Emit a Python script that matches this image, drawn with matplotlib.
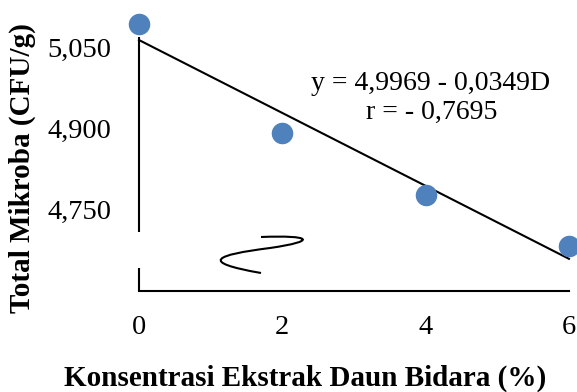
import matplotlib.pyplot as plt
import numpy as np
from matplotlib.path import Path
from matplotlib.patches import PathPatch

plt.rcParams['font.family'] = ['Liberation Serif', 'DejaVu Serif']

konsentrasi = [0, 2, 4, 6]
total_mikroba = [5.093, 4.891, 4.776, 4.681]
yticks = [4.750, 4.900, 5.050]
ytick_labels = ['4,750', '4,900', '5,050']
xticks = [0, 2, 4, 6]


def plot():
    fig = plt.figure(figsize=(5.77, 3.92), dpi=100)
    ax = fig.add_axes([139 / 577, 1 - 291 / 392, 430 / 577, 254 / 392])

    ax.scatter(konsentrasi, total_mikroba, s=210, color='#4F81BD',
               zorder=3, clip_on=False)

    # least squares trend line
    k, b = np.polyfit(konsentrasi, total_mikroba, 1)
    xs = np.array([0, 6])
    ax.plot(xs, k * xs + b, color='black', lw=1.5, clip_on=False)

    ax.set_xlim(0, 6)
    ax.set_ylim(4.598, 5.0685)
    ax.set_xticks(xticks)
    ax.set_yticks(yticks)
    ax.set_yticklabels(ytick_labels)
    ax.tick_params(length=0, labelsize=20.5)
    ax.tick_params(axis='y', pad=20)
    ax.tick_params(axis='x', pad=17)

    for s in ['top', 'right', 'left']:
        ax.spines[s].set_visible(False)
    ax.spines['bottom'].set_linewidth(1.5)

    # broken y axis drawn in two pieces
    tr = ax.transAxes
    ax.plot([0, 0], [1, (291 - 232) / 254], color='black', lw=1.5,
            transform=tr, clip_on=False, solid_capstyle='butt')
    ax.plot([0, 0], [0, (291 - 268) / 254], color='black', lw=1.5,
            transform=tr, clip_on=False, solid_capstyle='butt')

    # squiggle break mark
    def p(x, y):
        return ((x - 139) / 430, (291 - y) / 254)
    verts = [p(261, 273), p(198, 262), p(215, 255), p(270, 248),
             p(318, 241), p(312, 235), p(261, 237)]
    codes = [Path.MOVETO, Path.CURVE4, Path.CURVE4, Path.CURVE4,
             Path.CURVE4, Path.CURVE4, Path.CURVE4]
    ax.add_patch(PathPatch(Path(verts, codes), fill=False, lw=1.5,
                           transform=tr, clip_on=False))

    ax.text(0.679, 0.818, 'y = 4,9969 - 0,0349D', transform=tr,
            ha='center', va='center', fontsize=20)
    ax.text(0.681, 0.703, 'r = - 0,7695', transform=tr,
            ha='center', va='center', fontsize=20)

    fig.text(22 / 577, 1 - 168 / 392, 'Total Mikroba (CFU/g)', rotation=90,
             ha='center', va='center', fontsize=21, fontweight='bold')
    fig.text(305 / 577, 1 - 378 / 392, 'Konsentrasi Ekstrak Daun Bidara (%)',
             ha='center', va='center', fontsize=21, fontweight='bold')

    fig.savefig('out.png', dpi=100)


if __name__ == '__main__':
    plot()
